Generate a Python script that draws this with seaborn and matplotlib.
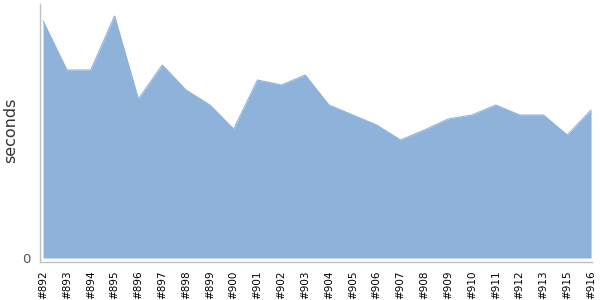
import matplotlib
matplotlib.use("Agg")
import matplotlib.pyplot as plt
import seaborn as sns
import pandas as pd

builds = ["#892", "#893", "#894", "#895", "#896", "#897", "#898", "#899", "#900",
          "#901", "#902", "#903", "#904", "#905", "#906", "#907", "#908", "#909",
          "#910", "#911", "#912", "#913", "#915", "#916"]
seconds = [237, 188, 188, 242, 159, 193, 168, 153, 129, 178, 173, 183, 153, 143,
           133, 118, 128, 139, 143, 153, 143, 143, 123, 148]

df = pd.DataFrame({"build": builds, "seconds": seconds})
df["pos"] = range(len(df))

sns.set_style("white")
fig = plt.figure(figsize=(6, 3), dpi=100)
ax = fig.add_axes([40 / 600, 1 - 262 / 300, 552 / 600, 258 / 300])

color = "#8FB2DA"
sns.lineplot(data=df, x="pos", y="seconds", ax=ax, color=color, linewidth=0.8)
ax.fill_between(df["pos"], 0, df["seconds"], color=color, linewidth=0)

ax.set_xlim(-0.13, len(df) - 1 + 0.04)
ax.set_ylim(-4, 254)
ax.set_xticks(df["pos"])
ax.set_xticklabels(df["build"], rotation=90, fontsize=7.5, color="black")
ax.set_yticks([0])
ax.set_yticklabels(["0"], fontsize=9.5, color="#555555")
ax.set_xlabel("")
ax.set_ylabel("seconds", fontsize=11.5, color="#333333")
ax.yaxis.set_label_coords(-0.04, 0.51)

for s in ["top", "right"]:
    ax.spines[s].set_visible(False)
for s in ["left", "bottom"]:
    ax.spines[s].set_color("#C0C0C0")
    ax.spines[s].set_linewidth(1)
ax.tick_params(axis="both", length=4, color="#C0C0C0", width=1, pad=2)
ax.tick_params(axis="y", pad=3)

fig.savefig("out.png", dpi=100)
